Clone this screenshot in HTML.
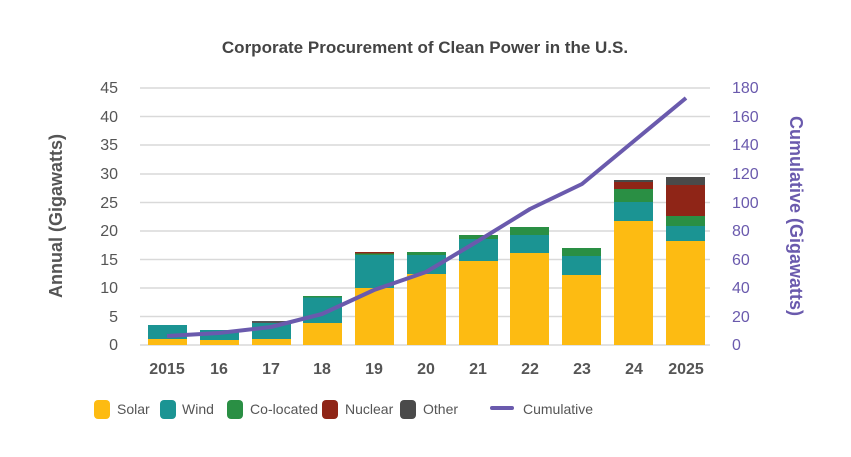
<!DOCTYPE html>
<html><head><meta charset="utf-8"><style>body{margin:0;background:#fff}svg{display:block}</style></head><body>
<svg width="851" height="457" viewBox="0 0 851 457" xmlns="http://www.w3.org/2000/svg" font-family="Liberation Sans, sans-serif">
<rect width="851" height="457" fill="#fff"/>
<text x="425" y="53" text-anchor="middle" font-size="17" font-weight="bold" fill="#444">Corporate Procurement of Clean Power in the U.S.</text>
<g stroke="#d9d9d9" stroke-width="1.5">
<line x1="140" x2="710" y1="88" y2="88"/><line x1="140" x2="710" y1="116.5" y2="116.5"/><line x1="140" x2="710" y1="145" y2="145"/><line x1="140" x2="710" y1="174" y2="174"/><line x1="140" x2="710" y1="202.5" y2="202.5"/><line x1="140" x2="710" y1="231" y2="231"/><line x1="140" x2="710" y1="259.5" y2="259.5"/><line x1="140" x2="710" y1="288" y2="288"/><line x1="140" x2="710" y1="316.5" y2="316.5"/><line x1="140" x2="710" y1="345" y2="345"/>
</g>
<g font-size="16" fill="#555" text-anchor="end">
<text x="118" y="93">45</text><text x="118" y="122">40</text><text x="118" y="150">35</text><text x="118" y="179">30</text><text x="118" y="208">25</text><text x="118" y="236">20</text><text x="118" y="265">15</text><text x="118" y="293">10</text><text x="118" y="322">5</text><text x="118" y="350">0</text>
</g>
<g font-size="16" fill="#6a5aad" text-anchor="start">
<text x="732" y="93">180</text><text x="732" y="122">160</text><text x="732" y="150">140</text><text x="732" y="179">120</text><text x="732" y="208">100</text><text x="732" y="236">80</text><text x="732" y="265">60</text><text x="732" y="293">40</text><text x="732" y="322">20</text><text x="732" y="350">0</text>
</g>
<text transform="translate(62,216) rotate(-90)" text-anchor="middle" font-size="18" font-weight="bold" fill="#555">Annual (Gigawatts)</text>
<text transform="translate(790,216) rotate(90)" text-anchor="middle" font-size="18" font-weight="bold" fill="#6a5aad">Cumulative (Gigawatts)</text>
<g>
<rect x="148" y="339" width="39" height="6" fill="#fdbb12"/><rect x="148" y="325" width="39" height="14" fill="#1b9493"/>
<rect x="200" y="340" width="39" height="5" fill="#fdbb12"/><rect x="200" y="330" width="39" height="10" fill="#1b9493"/>
<rect x="252" y="339" width="39" height="6" fill="#fdbb12"/><rect x="252" y="323" width="39" height="16" fill="#1b9493"/><rect x="252" y="321" width="39" height="2" fill="#555"/>
<rect x="303" y="323" width="39" height="22" fill="#fdbb12"/><rect x="303" y="297" width="39" height="26" fill="#1b9493"/><rect x="303" y="296" width="39" height="1.5" fill="#2a8f44"/>
<rect x="355" y="288" width="39" height="57" fill="#fdbb12"/><rect x="355" y="255" width="39" height="33" fill="#1b9493"/><rect x="355" y="253" width="39" height="2" fill="#2a8f44"/><rect x="355" y="252" width="39" height="1.5" fill="#8f2517"/>
<rect x="407" y="274" width="39" height="71" fill="#fdbb12"/><rect x="407" y="255" width="39" height="19" fill="#1b9493"/><rect x="407" y="252" width="39" height="3" fill="#2a8f44"/>
<rect x="459" y="261" width="39" height="84" fill="#fdbb12"/><rect x="459" y="239" width="39" height="22" fill="#1b9493"/><rect x="459" y="235" width="39" height="4" fill="#2a8f44"/>
<rect x="510" y="253" width="39" height="92" fill="#fdbb12"/><rect x="510" y="235" width="39" height="18" fill="#1b9493"/><rect x="510" y="227" width="39" height="8" fill="#2a8f44"/>
<rect x="562" y="275" width="39" height="70" fill="#fdbb12"/><rect x="562" y="256" width="39" height="19" fill="#1b9493"/><rect x="562" y="248" width="39" height="8" fill="#2a8f44"/>
<rect x="614" y="221" width="39" height="124" fill="#fdbb12"/><rect x="614" y="202" width="39" height="19" fill="#1b9493"/><rect x="614" y="189" width="39" height="13" fill="#2a8f44"/><rect x="614" y="182" width="39" height="7" fill="#8f2517"/><rect x="614" y="180" width="39" height="2" fill="#4a4a4a"/>
<rect x="666" y="241" width="39" height="104" fill="#fdbb12"/><rect x="666" y="226" width="39" height="15" fill="#1b9493"/><rect x="666" y="216" width="39" height="10" fill="#2a8f44"/><rect x="666" y="185" width="39" height="31" fill="#8f2517"/><rect x="666" y="177" width="39" height="8" fill="#4a4a4a"/>
</g>
<polyline points="167,336 219,333 271,327 322,314 374,290 426,272 478,241 530,209 582,184 634,141 686,98" fill="none" stroke="#6a5aad" stroke-width="4" stroke-linejoin="round"/>
<g font-size="16" font-weight="bold" fill="#555" text-anchor="middle">
<text x="167" y="374">2015</text><text x="219" y="374">16</text><text x="271" y="374">17</text><text x="322" y="374">18</text><text x="374" y="374">19</text><text x="426" y="374">20</text><text x="478" y="374">21</text><text x="530" y="374">22</text><text x="582" y="374">23</text><text x="634" y="374">24</text><text x="686" y="374">2025</text>
</g>
<g font-size="14" fill="#555">
<rect x="94" y="400" width="16" height="19" rx="4" fill="#fdbb12"/><text x="117" y="414">Solar</text>
<rect x="160" y="400" width="16" height="19" rx="4" fill="#1b9493"/><text x="182" y="414">Wind</text>
<rect x="227" y="400" width="16" height="19" rx="4" fill="#2a8f44"/><text x="250" y="414" textLength="68">Co-located</text>
<rect x="322" y="400" width="16" height="19" rx="4" fill="#8f2517"/><text x="345" y="414">Nuclear</text>
<rect x="400" y="400" width="16" height="19" rx="4" fill="#4a4a4a"/><text x="423" y="414">Other</text>
<line x1="492" x2="512" y1="408" y2="408" stroke="#6a5aad" stroke-width="4" stroke-linecap="round"/><text x="523" y="414">Cumulative</text>
</g>
</svg>
</body></html>
